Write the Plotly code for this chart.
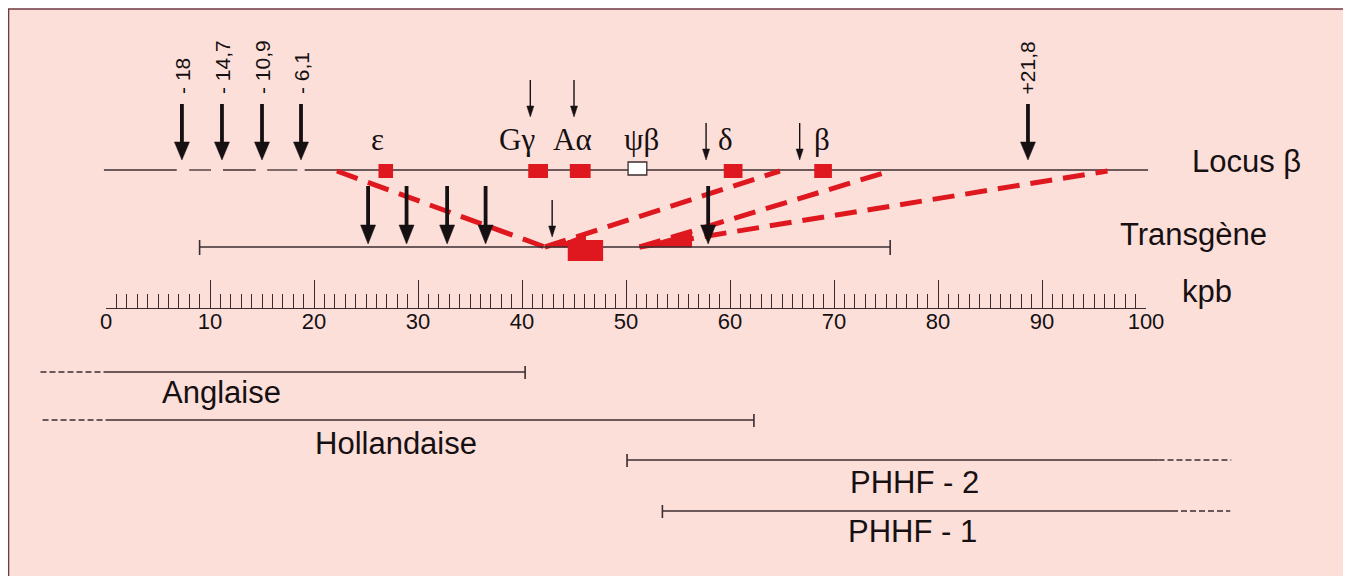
import plotly.graph_objects as go

# ---------------- data (positions in kpb) ----------------
upstream_sites = [7.3, 11.15, 15.0, 18.75]
upstream_labels = ["- 18", "- 14,7", "- 10,9", "- 6,1"]
downstream_sites = [88.65]
downstream_labels = ["+21,8"]

locus_span = [-0.2, 100.2]
locus_gaps_start = [6.8, 10.1, 14.4, 18.4]
locus_gaps_end = [8.0, 11.25, 15.5, 19.1]

gene_names = ["ε", "Gγ", "Aα", "ψβ", "δ", "β"]
gene_start = [26.2, 40.6, 44.6, 50.2, 59.4, 68.1]
gene_end = [27.6, 42.5, 46.6, 52.0, 61.2, 69.8]
gene_label_x = [26.15, 39.5, 44.9, 51.5, 59.6, 68.85]
gene_filled = [True, True, True, False, True, True]
gene_small_arrows = [40.8, 45.0]
gene_small_arrows_low = [57.7, 66.7]

transgene_span = [9.0, 75.4]
transgene_box = [44.4, 47.8]
transgene_big_arrows = [25.2, 28.9, 32.8, 36.5, 57.9]
transgene_small_arrows = [42.9]

# red mapping lines: (x0, x1) in kpb, from locus / to transgene
map_x_start = [22.2, 42.2, 51.3, 51.3]
map_x_end = [42.2, 64.8, 75.4, 96.3]
map_from_row = ["locus", "transgene", "transgene", "transgene"]
map_to_row = ["transgene", "locus", "locus", "locus"]

ruler_range = [0, 100]

deletion_names = ["Anglaise", "Hollandaise", "PHHF - 2", "PHHF - 1"]
deletion_solid_start = [0.0, 0.1, 50.1, 53.5]
deletion_solid_end = [40.3, 62.3, 101.2, 102.5]
deletion_dash_start = [-6.3, -6.1, 101.2, 102.5]
deletion_dash_end = [0.0, 0.1, 108.2, 108.1]
deletion_start_tick = [False, False, True, True]
deletion_end_tick = [True, True, False, False]
deletion_label_x = [11.06, 27.9, 77.7, 77.5]

# ---------------- layout constants ----------------
PAGE_W, PAGE_H = 1351, 576
OFF = 8                      # browser body margin; the white strip of the original
W, H = PAGE_W - OFF, PAGE_H - OFF
PX = 10.4                    # pixels per kpb
X0 = 106                     # page pixel of kpb 0
XR = [(OFF - X0) / PX, (PAGE_W - X0) / PX]

Y_LOCUS = 170
Y_TRANS = 247
Y_RULER = 308
Y_DEL = [372, 420, 460, 511]
Y_DEL_LABEL = [392, 443.5, 482, 531.5]

BG = "#FDDFD9"
RED = "#DE181E"
INK = "#161012"
LINE = "#3A2C30"
BORDER = "#6E3B40"
SANS = "Liberation Sans, Arial, sans-serif"
SERIF = "Liberation Serif, Times New Roman, serif"

shapes = []
annotations = []


def seg(x0, x1, y0, y1, color=LINE, width=1.4, dash="solid"):
    shapes.append(dict(type="line", xref="x", yref="y", x0=x0, x1=x1, y0=y0, y1=y1,
                       line=dict(color=color, width=width, dash=dash), layer="above"))


def arrow(x, y_tail, y_tip, shaft, head_w, head_l, color=INK):
    seg(x, x, y_tail, y_tip - head_l + 2, color=color, width=shaft)
    hw = head_w / 2 / PX
    shapes.append(dict(type="path", xref="x", yref="y",
                       path=f"M{x - hw},{y_tip - head_l} L{x + hw},{y_tip - head_l} L{x},{y_tip} Z",
                       fillcolor=color, line=dict(color=color, width=0.5), layer="above"))


def text(x, y, s, size, family=SANS, xanchor="center", yanchor="middle", angle=0):
    annotations.append(dict(x=x, y=y, xref="x", yref="y", text=s, showarrow=False,
                            xanchor=xanchor, yanchor=yanchor, textangle=angle,
                            font=dict(size=size, family=family, color=INK)))


# background panel with border (left edge at page x=8, top at y=9, right at 1345)
shapes.append(dict(type="rect", xref="paper", yref="paper",
                   x0=0.5 / W, x1=(1345 - OFF) / W,
                   y0=-0.02, y1=1 - (9 - OFF) / H, fillcolor=BG,
                   line=dict(color=BORDER, width=1.6), layer="below"))

# ---- locus beta line with gaps ----
xs = [locus_span[0]] + locus_gaps_end
xe = locus_gaps_start + [locus_span[1]]
for a, b in zip(xs, xe):
    seg(a, b, Y_LOCUS, Y_LOCUS, width=1.3)

# ---- red mapping lines ----
row_y = {"locus": Y_LOCUS + 1, "transgene": Y_TRANS}
for a, b, r0, r1 in zip(map_x_start, map_x_end, map_from_row, map_to_row):
    seg(a, b, row_y[r0], row_y[r1], color=RED, width=5, dash="22px,11px")
# solid wedges where lines leave the transgene
for a, b, top in [(map_x_start[1] + 0.8, map_x_start[1] + 3.9, 234),
                  (map_x_start[2], map_x_start[2] + 5.0, 232)]:
    shapes.append(dict(type="path", xref="x", yref="y",
                       path=f"M{a},{Y_TRANS} L{b},{top} L{b},{Y_TRANS} Z",
                       fillcolor=RED, line=dict(color=RED, width=1), layer="above"))

# ---- genes ----
for name, a, b, lx, filled in zip(gene_names, gene_start, gene_end, gene_label_x, gene_filled):
    if filled:
        shapes.append(dict(type="rect", xref="x", yref="y", x0=a, x1=b, y0=164, y1=178,
                           fillcolor=RED, line=dict(width=0), layer="above"))
    else:
        shapes.append(dict(type="rect", xref="x", yref="y", x0=a, x1=b, y0=162, y1=175,
                           fillcolor="#FFFFFF", line=dict(color=LINE, width=1.3), layer="above"))
    text(lx, 139, name, 31, family=SERIF)

# ---- arrows on locus ----
for x, lab in zip(upstream_sites + downstream_sites, upstream_labels + downstream_labels):
    arrow(x, 104, 160, 3.8, 15, 18)
    text(x, 96, lab, 21, yanchor="bottom", angle=-90)
for x in gene_small_arrows:
    arrow(x, 80, 117, 1.4, 7, 11)
for x in gene_small_arrows_low:
    arrow(x, 123, 160, 1.4, 7, 11)

# ---- transgene ----
seg(transgene_span[0], transgene_span[1], Y_TRANS, Y_TRANS, width=1.4)
for x in transgene_span:
    seg(x, x, Y_TRANS - 7, Y_TRANS + 8, width=1.6)
shapes.append(dict(type="rect", xref="x", yref="y", x0=transgene_box[0], x1=transgene_box[1],
                   y0=240, y1=261, fillcolor=RED, line=dict(width=0), layer="above"))
for x in transgene_big_arrows:
    arrow(x, 186, 244, 3.8, 15, 19)
for x in transgene_small_arrows:
    arrow(x, 200, 237, 1.4, 7, 11)

# ---- right side labels ----
text(104.2, 161.5, "Locus β", 31, xanchor="left")
text(97.3, 234, "Transgène", 31, xanchor="left")
text(103.3, 291.5, "kpb", 31, xanchor="left")

# ---- deletions ----
for i, name in enumerate(deletion_names):
    y = Y_DEL[i]
    seg(deletion_solid_start[i], deletion_solid_end[i], y, y, width=1.6)
    seg(deletion_dash_start[i], deletion_dash_end[i], y, y, width=1.4, dash="6px,3px")
    if deletion_start_tick[i]:
        seg(deletion_solid_start[i], deletion_solid_start[i], y - 6, y + 7, width=1.6)
    if deletion_end_tick[i]:
        seg(deletion_solid_end[i], deletion_solid_end[i], y - 6, y + 7, width=1.6)
    text(deletion_label_x[i], Y_DEL_LABEL[i], name, 31)

fig = go.Figure()
# invisible anchor traces for both x axes
fig.add_trace(go.Scatter(x=XR, y=[PAGE_H, PAGE_H], mode="lines", line=dict(width=0), opacity=0,
                         hoverinfo="skip", showlegend=False))
fig.add_trace(go.Scatter(x=ruler_range, y=[Y_RULER, Y_RULER], xaxis="x2", yaxis="y",
                         mode="lines", line=dict(width=0), opacity=0,
                         hoverinfo="skip", showlegend=False))

fig.update_layout(
    width=W, height=H,
    margin=dict(l=0, r=0, t=0, b=0, pad=0),
    paper_bgcolor="#FFFFFF", plot_bgcolor="rgba(0,0,0,0)",
    showlegend=False,
    xaxis=dict(range=XR, visible=False, fixedrange=True, domain=[0, 1], automargin=False),
    yaxis=dict(range=[PAGE_H, OFF], visible=False, fixedrange=True, automargin=False),
    xaxis2=dict(domain=[(X0 - OFF) / W, (X0 + 100 * PX - OFF) / W], range=ruler_range,
                anchor="free", position=(PAGE_H - Y_RULER) / H, side="bottom",
                showline=True, linecolor=LINE, linewidth=1.4,
                ticks="inside", ticklen=28, tickwidth=1.3, tickcolor=LINE,
                tick0=0, dtick=10, ticklabelstandoff=-7, automargin=False,
                minor=dict(ticks="inside", ticklen=14, dtick=1, tickwidth=1.2, tickcolor=LINE),
                showgrid=False, zeroline=False, fixedrange=True,
                tickfont=dict(size=22, family=SANS, color=INK)),
    shapes=shapes,
    annotations=annotations,
)

fig.write_html("out.html", config={"displayModeBar": False, "responsive": False})
